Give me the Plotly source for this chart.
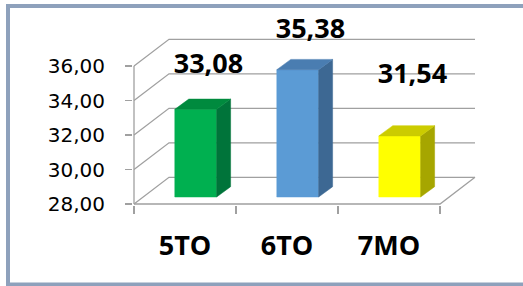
import plotly.graph_objects as go

# ---- data ----
categories = ["5TO", "6TO", "7MO"]
values = [33.08, 35.38, 31.54]
y_ticks = [28, 30, 32, 34, 36]

# ---- styles ----
front_colors = ["#00B050", "#5B9BD5", "#FFFF00"]
top_colors = ["#008A3E", "#4A7DB1", "#CCCC00"]
side_colors = ["#00743A", "#3D6893", "#A6A600"]
label_nudge = [2.9, 2.65, 3.85]   # vertical placement of the data labels (value units)
grid_color = "#A0A0A0"

# ---- geometry of the 3D projection ----
PX_X = 102.0      # pixels per category
PX_Y = 17.25      # pixels per value unit
DX = 35 / PX_X    # depth offset (x units)
DY = 26.7 / PX_Y  # depth offset (value units)
BX0, BX1 = -0.10, 0.31        # bar front face, relative to category centre
BLIFT = 0.406                  # bar bottom lift (value units)
SDX, SDY = 14 / PX_X, 10.3 / PX_Y  # bar depth

ymin, ymax = y_ticks[0], y_ticks[-1]
n = len(categories)
xl, xr = -0.5, n - 0.5

L, R, T, B = 133, 42, 10, 81
W, H = 523 - L - R, 286 - T - B

fig = go.Figure()

# gridlines: left wall diagonals + back wall
gx, gy = [], []
for v in y_ticks:
    gx += [xl, xl + DX, xr + DX, None]
    gy += [v, v + DY, v + DY, None]
# front axis line, floor front edge and right edge
gx += [xl, xl, None, xl, xr, xr + DX, None]
gy += [ymax, ymin, None, ymin, ymin, ymin + DY, None]
fig.add_trace(go.Scatter(x=gx, y=gy, mode="lines",
                         line=dict(color=grid_color, width=1.3),
                         hoverinfo="skip", showlegend=False))

# bars (front, side, top)
for i, v in enumerate(values):
    x0, x1 = i + BX0, i + BX1
    b = ymin + BLIFT
    t = v + BLIFT
    faces = [
        ([x0, x1, x1, x0, x0], [b, b, t, t, b], front_colors[i]),
        ([x1, x1 + SDX, x1 + SDX, x1, x1], [b, b + SDY, t + SDY, t, b], side_colors[i]),
        ([x0, x1, x1 + SDX, x0 + SDX, x0], [t, t, t + SDY, t + SDY, t], top_colors[i]),
    ]
    for fx, fy, c in faces:
        fig.add_trace(go.Scatter(x=fx, y=fy, mode="lines", fill="toself",
                                 fillcolor=c, line=dict(color=c, width=0.5),
                                 hoverinfo="skip", showlegend=False))

# data labels
fig.add_trace(go.Scatter(
    x=[i + 0.23 for i in range(n)],
    y=[v + d for v, d in zip(values, label_nudge)],
    customdata=values, mode="text",
    texttemplate="%{customdata:.2f}", textposition="middle center",
    textfont=dict(family="Open Sans", size=27, color="#000000", weight="bold"),
    cliponaxis=False, hoverinfo="skip", showlegend=False))

fig.update_layout(
    width=523, height=286,
    margin=dict(l=L, r=R, t=T, b=B, pad=0),
    paper_bgcolor="white", plot_bgcolor="white",
    separators=",.",
    showlegend=False,
    xaxis=dict(
        range=[xl - 1 / PX_X, xl - 1 / PX_X + W / PX_X],
        tickvals=list(range(n)), ticktext=categories,
        ticks="", showgrid=False, showline=False, zeroline=False,
        tickfont=dict(family="Open Sans", size=27, color="#000000", weight="bold"),
        ticklabelstandoff=22,
        minor=dict(tickvals=[k - 0.5 for k in range(n + 1)], ticks="outside",
                   ticklen=8, tickcolor=grid_color, tickwidth=1.3, showgrid=False),
    ),
    yaxis=dict(
        range=[ymin - 1 / PX_Y, ymin - 1 / PX_Y + H / PX_Y],
        tickvals=y_ticks, tickformat=".2f",
        ticks="outside", ticklen=7, tickcolor=grid_color, tickwidth=1.3,
        showgrid=False, showline=False, zeroline=False,
        tickfont=dict(family="DejaVu Sans", size=20, color="#000000"),
        ticklabelstandoff=16,
    ),
    shapes=[dict(type="rect", xref="paper", yref="paper",
                 x0=(8 - L) / W, x1=(700 - L) / W,
                 y0=(H + T - 284.5) / H, y1=(H + T - 6) / H,
                 line=dict(color="#8EA1BC", width=4), fillcolor="rgba(0,0,0,0)",
                 layer="above")],
)

fig.write_html("out.html",
               config={"displayModeBar": False, "staticPlot": True},
               post_script="document.body.style.margin='0';document.body.style.overflow='hidden';")
